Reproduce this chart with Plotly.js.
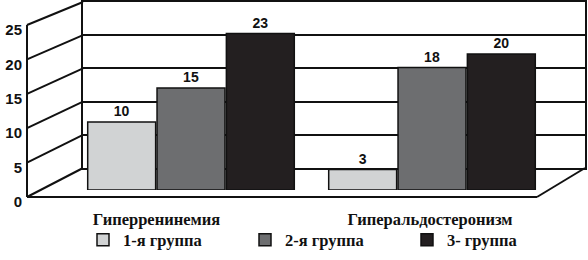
<!DOCTYPE html>
<html><head><meta charset="utf-8">
<script src="https://cdn.plot.ly/plotly-3.0.1.min.js"></script>
<style>html,body{margin:0;padding:0;background:#fff}#c{width:588px;height:260px}</style>
</head><body><div id="c"></div>
<script>
var categories = ['Гиперренинемия', 'Гиперальдостеронизм'];
var seriesNames = ['1-я группа', '2-я группа', '3- группа'];
var group1 = [10, 3];
var group2 = [15, 18];
var group3 = [23, 20];
var yTicks = [0, 5, 10, 15, 20, 25];
var colors = ['#d1d3d4', '#6d6e70', '#231f20'];

var W = 588, H = 260;
function px(x){ return x / W; }
function py(y){ return 1 - y / H; }
// geometry of the 3D frame (pixels)
var frontX = 27, backX = 83, rightX = 585, floorRightX = 537;
var front0 = 197, front25 = 25, back0 = 168, back25 = 2;
function frontY(v){ return front0 - v * (front0 - front25) / 25; }
function backY(v){ return back0 - v * (back0 - back25) / 25; }

var sans = 'Liberation Sans, Arial, sans-serif';
var serif = 'Liberation Serif, Times New Roman, serif';

var series = [group1, group2, group3];
var traces = series.map(function(vals, i){
  return {
    type: 'bar', x: categories, y: vals, name: seriesNames[i],
    xaxis: 'x2', yaxis: 'y2',
    marker: {color: colors[i], line: {color: '#111', width: 1.5}},
    text: vals.map(String), textposition: 'outside', cliponaxis: false,
    textfont: {family: sans, size: 14, weight: 'bold', color: '#111'},
    hoverinfo: 'skip'
  };
});
// invisible helper traces: back wall subplot, front tick-label axis, category-label axis
traces.push({type: 'scatter', x: [], y: [], xaxis: 'x', yaxis: 'y', showlegend: false, hoverinfo: 'skip'});
traces.push({type: 'scatter', x: [], y: [], xaxis: 'x2', yaxis: 'y3', showlegend: false, hoverinfo: 'skip'});
traces.push({type: 'scatter', mode: 'markers', x: categories, y: categories.map(function(){ return 0; }),
  xaxis: 'x3', yaxis: 'y2', marker: {opacity: 0}, showlegend: false, hoverinfo: 'skip'});

var shapes = [];
function line(x0, y0, x1, y1){
  shapes.push({type: 'line', xref: 'paper', yref: 'paper', x0: px(x0), y0: py(y0), x1: px(x1), y1: py(y1),
    line: {color: '#111', width: 2}, layer: 'below'});
}
yTicks.forEach(function(v){ line(frontX, frontY(v), backX, backY(v)); });
line(frontX, frontY(0), frontX, frontY(25));
line(frontX, frontY(0), floorRightX, frontY(0));
line(floorRightX, frontY(0), rightX, backY(0));

var layout = {
  width: W, height: H,
  margin: {l: 0, r: 0, t: 0, b: 0},
  paper_bgcolor: '#fff', plot_bgcolor: 'rgba(0,0,0,0)',
  showlegend: true,
  barmode: 'group', bargap: 0.137, bargroupgap: 0.02,
  xaxis: {domain: [px(backX), px(rightX)], range: [0, 1], showline: true, mirror: true,
    linecolor: '#111', linewidth: 2, showgrid: false, zeroline: false, showticklabels: false, ticks: ''},
  yaxis: {domain: [py(back0), py(back25)], range: [0, 25], tickvals: yTicks, showgrid: true,
    gridcolor: '#111', gridwidth: 2, showline: true, mirror: true, linecolor: '#111', linewidth: 2,
    zeroline: false, showticklabels: false, ticks: ''},
  xaxis2: {domain: [px(70.5), px(552.5)], range: [-0.5, 1.5], type: 'category', anchor: 'y2',
    showline: false, showgrid: false, zeroline: false, ticks: '', showticklabels: false},
  xaxis3: {domain: [px(19.75), px(566.75)], range: [-0.5, 1.5], type: 'category', anchor: 'y2',
    showline: false, showgrid: false, zeroline: false, ticks: '',
    tickfont: {family: serif, size: 16.5, weight: 'bold', color: '#111'}, ticklabelstandoff: 17},
  yaxis2: {domain: [py(190), py(20)], range: [0, 25], visible: false},
  yaxis3: {domain: [py(202), py(30)], range: [0, 25], tickvals: yTicks, anchor: 'free', position: px(22),
    side: 'left', showline: false, showgrid: false, zeroline: false, ticks: '',
    tickfont: {family: sans, size: 15, weight: 'bold', color: '#111'}},
  legend: {orientation: 'h', x: px(83), xanchor: 'left', y: py(240), yanchor: 'middle',
    font: {family: serif, size: 16.5, weight: 'bold', color: '#111'},
    entrywidth: 117, entrywidthmode: 'pixels', itemwidth: 30, bgcolor: 'rgba(0,0,0,0)'},
  shapes: shapes
};

Plotly.newPlot('c', traces, layout, {staticPlot: true, displayModeBar: false});
</script></body></html>
